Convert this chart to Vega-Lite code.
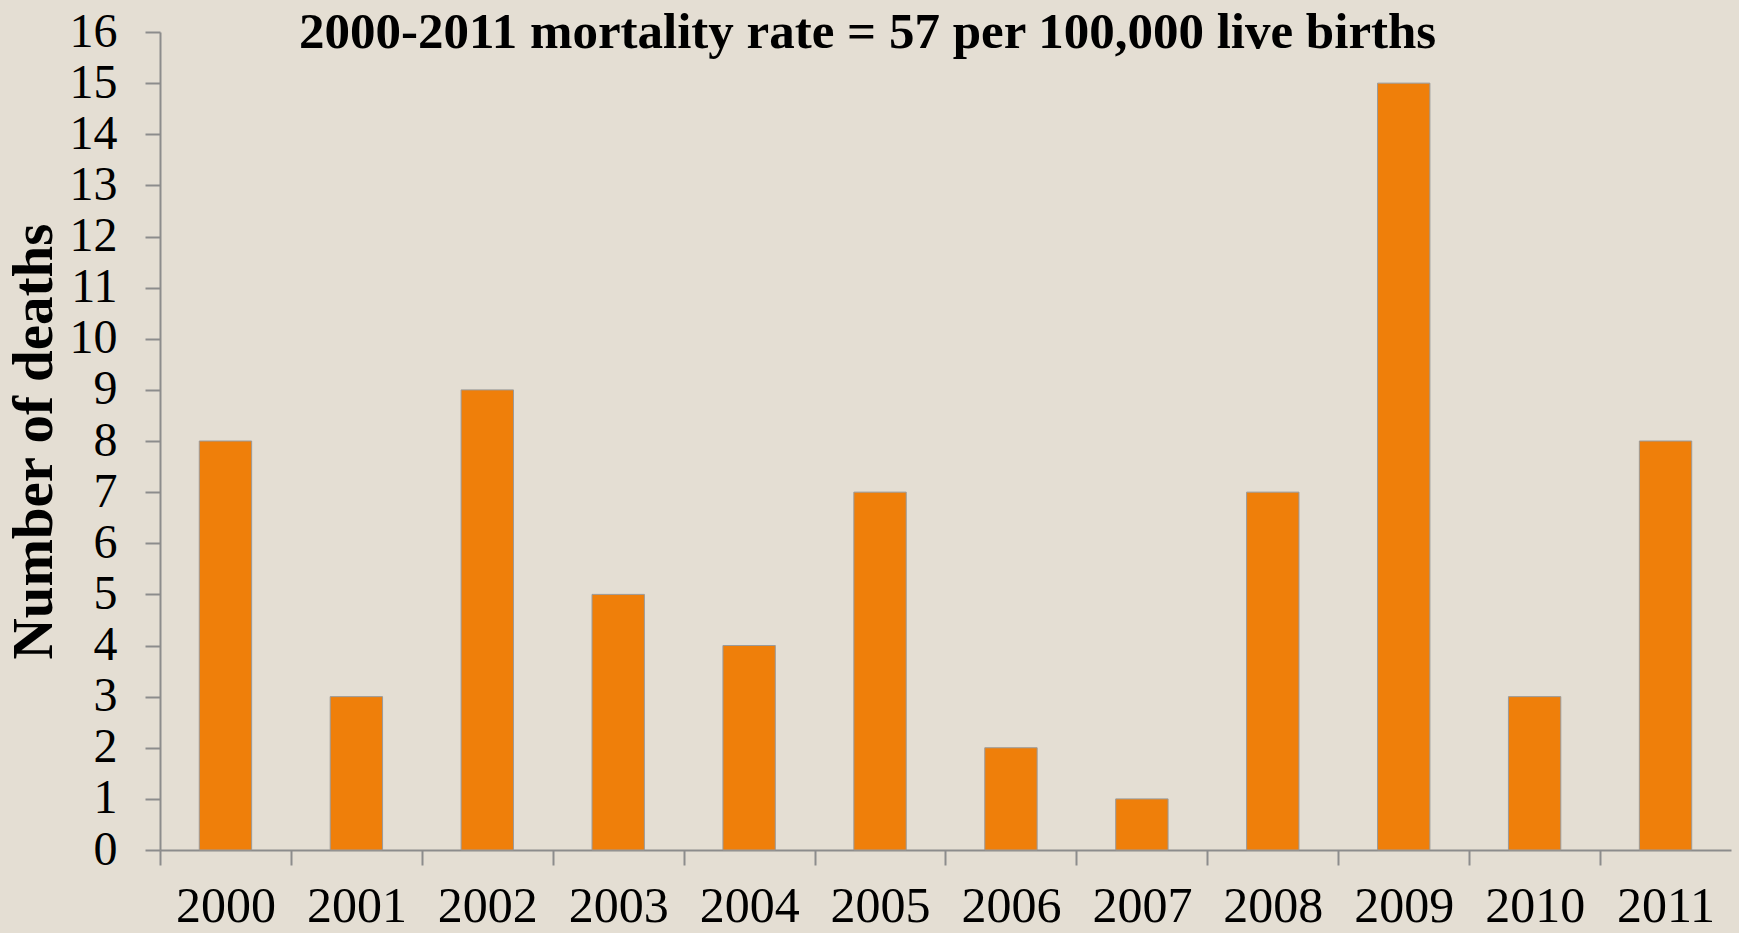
{
  "$schema": "https://vega.github.io/schema/vega-lite/v6.json",
  "autosize": "none",
  "width": 1571,
  "height": 818,
  "padding": {"left": 160, "top": 32, "right": 8, "bottom": 83},
  "background": "#E4DED3",
  "title": {
    "text": "2000-2011 mortality rate = 57 per 100,000 live births",
    "anchor": "start",
    "frame": "group",
    "dx": 139,
    "offset": -91,
    "baseline": "alphabetic",
    "font": "Liberation Serif",
    "fontSize": 51,
    "fontWeight": "bold",
    "color": "#000000"
  },
  "data": {
    "values": [
      {"year": "2000", "deaths": 8},
      {"year": "2001", "deaths": 3},
      {"year": "2002", "deaths": 9},
      {"year": "2003", "deaths": 5},
      {"year": "2004", "deaths": 4},
      {"year": "2005", "deaths": 7},
      {"year": "2006", "deaths": 2},
      {"year": "2007", "deaths": 1},
      {"year": "2008", "deaths": 7},
      {"year": "2009", "deaths": 15},
      {"year": "2010", "deaths": 3},
      {"year": "2011", "deaths": 8}
    ]
  },
  "mark": {"type": "bar", "color": "#EF7F0A", "stroke": "#9A9A9A", "strokeWidth": 1},
  "encoding": {
    "x": {
      "field": "year",
      "type": "ordinal",
      "scale": {"paddingInner": 0.6, "paddingOuter": 0.3},
      "axis": {
        "title": null,
        "labelAngle": 0,
        "labelFont": "Liberation Serif",
        "labelFontSize": 50,
        "labelColor": "#000000",
        "labelPadding": 16,
        "labelOffset": 65.46,
        "tickBand": "center",
        "tickOffset": -65.46,
        "tickSize": 15,
        "tickColor": "#8C8C8C",
        "tickWidth": 2,
        "domainColor": "#8C8C8C",
        "domainWidth": 2
      }
    },
    "y": {
      "field": "deaths",
      "type": "quantitative",
      "scale": {"domain": [0, 16], "nice": false},
      "axis": {
        "title": "Number of deaths",
        "titleFont": "Liberation Serif",
        "titleFontSize": 57,
        "titleFontWeight": "bold",
        "titleColor": "#000000",
        "titlePadding": 6,
        "values": [0,1,2,3,4,5,6,7,8,9,10,11,12,13,14,15,16],
        "labelFont": "Liberation Serif",
        "labelFontSize": 48,
        "labelColor": "#000000",
        "labelPadding": 28,
        "labelOverlap": false,
        "labelFlush": false,
        "grid": false,
        "tickSize": 15,
        "tickColor": "#8C8C8C",
        "tickWidth": 2,
        "domainColor": "#8C8C8C",
        "domainWidth": 2
      }
    }
  },
  "config": {"view": {"stroke": null}}
}
